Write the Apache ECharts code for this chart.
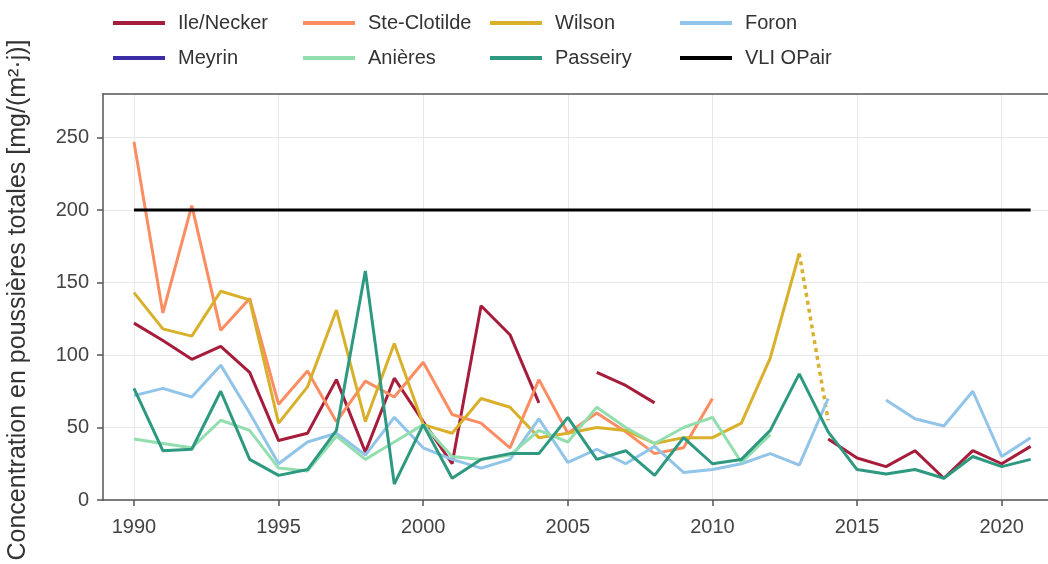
<!DOCTYPE html>
<html>
<head>
<meta charset="utf-8">
<script src="https://cdn.jsdelivr.net/npm/echarts@6/dist/echarts.min.js"></script>
<style>
  html, body { margin: 0; padding: 0; background: #fff; }
  #main { width: 1048px; height: 564px; }
</style>
</head>
<body>
<div id="main"></div>
<script>
var years = [1990, 1991, 1992, 1993, 1994, 1995, 1996, 1997, 1998, 1999, 2000,
  2001, 2002, 2003, 2004, 2005, 2006, 2007, 2008, 2009, 2010,
  2011, 2012, 2013, 2014, 2015, 2016, 2017, 2018, 2019, 2020, 2021];

var ileNecker = [122, 110, 97, 106, 88, 41, 46, 83, 33, 84, 54,
  25, 134, 114, 67, null, 88, 79, 67, null, null,
  null, null, null, 42, 29, 23, 34, 15, 34, 25, 37];
var steClotilde = [247, 129, 203, 117, 139, 66, 89, 54, 82, 71, 95,
  59, 53, 36, 83, 46, 60, 47, 32, 36, 70,
  null, null, null, null, null, null, null, null, null, null, null];
var wilson = [143, 118, 113, 144, 138, 53, 78, 131, 54, 108, 52,
  46, 70, 64, 43, 46, 50, 48, 39, 43, 43,
  53, 98, 170, null, null, null, null, null, null, null, null];
var foron = [72, 77, 71, 93, 60, 25, 40, 46, 31, 57, 36,
  28, 22, 28, 56, 26, 35, 25, 37, 19, 21,
  25, 32, 24, 70, null, 69, 56, 51, 75, 30, 43];
var meyrin = [];
var anieres = [42, 39, 36, 55, 48, 22, 20, 44, 28, 40, 52,
  30, 28, 31, 48, 40, 64, 50, 39, 50, 57,
  26, 45, null, null, null, null, null, null, null, null, null];
var passeiry = [77, 34, 35, 75, 28, 17, 21, 48, 158, 11, 52,
  15, 28, 32, 32, 57, 28, 34, 17, 43, 25,
  28, 48, 87, 47, 21, 18, 21, 15, 30, 23, 28];

// Wilson 2013 -> 2014, dotted segment
var wilsonDotYears = [2013, 2014];
var wilsonDotValues = [170, 55];

var vliYears = [1990, 2021];
var vliValues = [200, 200];

var xTicks = [1990, 1995, 2000, 2005, 2010, 2015, 2020];
var yTicks = [0, 50, 100, 150, 200, 250];

function pairs(xs, vs) {
  return xs.map(function (x, i) {
    var v = vs[i];
    return [x, (v === null || v === undefined) ? '-' : v];
  });
}

var chart = echarts.init(document.getElementById('main'), null, { renderer: 'canvas' });

var font = "'Liberation Sans', Arial, sans-serif";
var xMin = 1988.93, xMax = 2021.6;

function lineSeries(name, color, data) {
  return {
    name: name,
    type: 'line',
    data: data,
    showSymbol: false,
    symbol: 'none',
    connectNulls: false,
    lineStyle: { color: color, width: 3 },
    itemStyle: { color: color },
    emphasis: { disabled: true }
  };
}

var legendItems = [
  { name: 'Ile/Necker', left: 113, top: 13 },
  { name: 'Ste-Clotilde', left: 303, top: 13 },
  { name: 'Wilson', left: 490, top: 13 },
  { name: 'Foron', left: 680, top: 13 },
  { name: 'Meyrin', left: 113, top: 48 },
  { name: 'Anières', left: 303, top: 48 },
  { name: 'Passeiry', left: 490, top: 48 },
  { name: 'VLI OPair', left: 680, top: 48 }
];

var legends = legendItems.map(function (it) {
  return {
    data: [it.name],
    left: it.left,
    top: it.top,
    padding: 0,
    icon: 'rect',
    itemWidth: 52,
    itemHeight: 4,
    selectedMode: false,
    textStyle: { fontSize: 20, color: '#333', fontFamily: font, padding: [0, 0, 0, 8] }
  };
});

var option = {
  animation: false,
  backgroundColor: '#fff',
  legend: legends,
  grid: {
    left: 103,
    top: 94,
    right: 0,
    bottom: 64
  },
  xAxis: [{
    type: 'value',
    min: xMin,
    max: xMax,
    axisLine: { show: true, onZero: false, lineStyle: { color: '#555', width: 1.5 } },
    axisTick: { show: true, length: 6, lineStyle: { color: '#555', width: 1.5 }, customValues: xTicks },
    axisLabel: {
      fontSize: 20, color: '#444', fontFamily: font, margin: 17, customValues: xTicks,
      formatter: function (v) { return String(v); }
    },
    splitLine: { show: true, lineStyle: { color: '#e8e8e8', width: 1 } }
  }, {
    type: 'value',
    position: 'top',
    min: xMin,
    max: xMax,
    axisLine: { show: true, onZero: false, lineStyle: { color: '#555', width: 1.5 } },
    axisTick: { show: false },
    axisLabel: { show: false },
    splitLine: { show: false }
  }],
  yAxis: {
    type: 'value',
    min: 0,
    max: 280,
    axisLine: { show: true, lineStyle: { color: '#555', width: 1.5 } },
    axisTick: { show: true, length: 6, lineStyle: { color: '#555', width: 1.5 }, customValues: yTicks },
    axisLabel: { fontSize: 20, color: '#444', fontFamily: font, margin: 14, customValues: yTicks },
    splitLine: { show: true, lineStyle: { color: '#e8e8e8', width: 1 } }
  },
  graphic: [{
    type: 'text',
    x: 18,
    y: 300,
    rotation: Math.PI / 2,
    style: {
      text: 'Concentration en poussières totales [mg/(m²·j)]',
      fontSize: 25,
      fontFamily: font,
      fill: '#333',
      align: 'center',
      verticalAlign: 'middle'
    }
  }],
  series: [
    lineSeries('Ile/Necker', '#a51d3a', pairs(years, ileNecker)),
    lineSeries('Ste-Clotilde', '#fc8d62', pairs(years, steClotilde)),
    lineSeries('Wilson', '#d9b02c', pairs(years, wilson)),
    Object.assign(lineSeries('Wilson', '#d9b02c', pairs(wilsonDotYears, wilsonDotValues)), {
      lineStyle: { color: '#d9b02c', width: 3.5, type: [4, 4] }
    }),
    lineSeries('Foron', '#91c4e9', pairs(years, foron)),
    lineSeries('Meyrin', '#3a2da6', pairs(years, meyrin)),
    lineSeries('Anières', '#93deae', pairs(years, anieres)),
    lineSeries('Passeiry', '#2e9981', pairs(years, passeiry)),
    lineSeries('VLI OPair', '#000000', pairs(vliYears, vliValues))
  ]
};

chart.setOption(option);
</script>
</body>
</html>
